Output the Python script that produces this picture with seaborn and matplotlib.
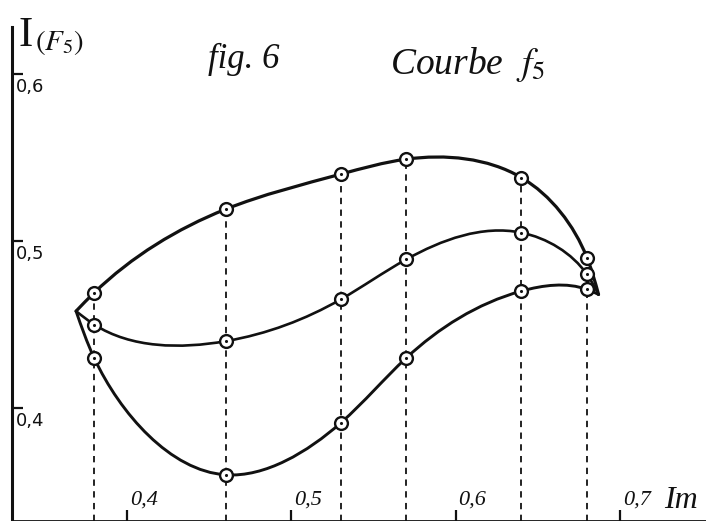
import numpy as np
import pandas as pd
import matplotlib
matplotlib.use("Agg")
import matplotlib.pyplot as plt
from matplotlib.path import Path
from matplotlib.patches import PathPatch
import seaborn as sns

# Measured intensity I(F5) against Im for the three branches of curve f5
im_values = [0.38, 0.46, 0.53, 0.57, 0.64, 0.68]
upper_branch = [0.469, 0.519, 0.540, 0.549, 0.538, 0.490]
middle_branch = [0.450, 0.440, 0.465, 0.489, 0.505, 0.480]
lower_branch = [0.430, 0.360, 0.391, 0.430, 0.470, 0.471]

# Points where the three branches meet
left_join = (0.369, 0.458)
right_join = (0.687, 0.468)

x_ticks = [0.4, 0.5, 0.6, 0.7]
x_tick_labels = ["0,4", "0,5", "0,6", "0,7"]
y_ticks = [0.4, 0.5, 0.6]
y_tick_labels = ["0,4", "0,5", "0,6"]

INK = "#111111"

sns.set_theme(style="white")
plt.rcParams["font.family"] = ["Liberation Serif", "DejaVu Serif"]
plt.rcParams["mathtext.fontset"] = "stix"

W, H = 706, 521
fig = plt.figure(figsize=(W / 100, H / 100), dpi=100)
fig.patch.set_facecolor("white")
ax = fig.add_axes([12 / W, 0, 1 - 12 / W, 1])
ax.set_facecolor("white")
ax.set_xlim(0.33001, 0.75241)
ax.set_ylim(0.33234, 0.64431)

for side in ("top", "right"):
    ax.spines[side].set_visible(False)
ax.spines["left"].set_color(INK)
ax.spines["left"].set_linewidth(2.2)
ax.spines["left"].set_bounds(0.33234, 0.6281)
ax.spines["bottom"].set_color(INK)
ax.spines["bottom"].set_linewidth(2.0)

ax.set_xticks(x_ticks)
ax.set_yticks(y_ticks)
ax.set_xticklabels([])
ax.set_yticklabels([])
ax.tick_params(axis="both", direction="in", length=8, width=1.6, color=INK,
               bottom=True, left=True)

# vertical dashed guides from the top branch down to the Im axis
ax.vlines(im_values, ymin=0.33234, ymax=upper_branch, colors=INK,
          linestyles=(0, (3.5, 3.0)), linewidth=1.3, zorder=2)


def smooth_path(points):
    """Natural cubic spline through the points (chord-length parameter),
    written as exact cubic Bezier segments."""
    p = np.asarray(points, dtype=float)
    n = len(p)
    h = np.linalg.norm(np.diff(p, axis=0), axis=1)
    # second derivatives with natural end conditions
    A = np.zeros((n, n))
    rhs = np.zeros((n, 2))
    A[0, 0] = A[-1, -1] = 1.0
    for i in range(1, n - 1):
        A[i, i - 1] = h[i - 1]
        A[i, i] = 2.0 * (h[i - 1] + h[i])
        A[i, i + 1] = h[i]
        rhs[i] = 6.0 * ((p[i + 1] - p[i]) / h[i] - (p[i] - p[i - 1]) / h[i - 1])
    M = np.linalg.solve(A, rhs)
    verts = [p[0]]
    codes = [Path.MOVETO]
    for i in range(n - 1):
        slope = (p[i + 1] - p[i]) / h[i]
        d0 = slope - h[i] * (2.0 * M[i] + M[i + 1]) / 6.0
        d1 = slope + h[i] * (M[i] + 2.0 * M[i + 1]) / 6.0
        verts += [p[i] + d0 * h[i] / 3.0, p[i + 1] - d1 * h[i] / 3.0, p[i + 1]]
        codes += [Path.CURVE4] * 3
    return Path(verts, codes)


for branch, lw in ((upper_branch, 2.3), (middle_branch, 1.9), (lower_branch, 2.1)):
    pts = [left_join] + list(zip(im_values, branch)) + [right_join]
    ax.add_patch(PathPatch(smooth_path(pts), facecolor="none", edgecolor=INK,
                           linewidth=lw, capstyle="round", joinstyle="round",
                           zorder=3))

points = pd.DataFrame({
    "Im": im_values * 3,
    "I": upper_branch + middle_branch + lower_branch,
})

sns.scatterplot(data=points, x="Im", y="I", ax=ax, marker="o", s=85,
                facecolor="white", edgecolor=INK, linewidth=1.7, zorder=5,
                legend=False)
sns.scatterplot(data=points, x="Im", y="I", ax=ax, marker="o", s=5,
                color=INK, linewidth=0, zorder=6, legend=False)
ax.set_xlabel("")
ax.set_ylabel("")

# tick labels written beside the marks
for v, lab in zip(y_ticks, y_tick_labels):
    ax.annotate(lab, xy=(0.33001, v), xytext=(2.5, -3), textcoords="offset points",
                ha="left", va="top", fontsize=13, color=INK,
                family=["DejaVu Sans"])
for v, lab in zip(x_ticks, x_tick_labels):
    ax.annotate(lab, xy=(v, 0.33234), xytext=(2, 8), textcoords="offset points",
                ha="left", va="bottom", fontsize=16, style="italic", color=INK)

# axis names and title
fig.text(19 / W, 1 - 46 / H, "I", fontsize=31, color=INK, ha="left",
         va="baseline")
fig.text(35 / W, 1 - 50 / H, r"$(F_5)$", fontsize=21, color=INK, ha="left",
         va="baseline")
fig.text(664 / W, 1 - 508 / H, "Im", fontsize=23, style="italic", color=INK,
         ha="left", va="baseline")
fig.text(208 / W, 1 - 68 / H, "fig. 6", fontsize=25, style="italic", color=INK,
         ha="left", va="baseline")
fig.text(390 / W, 1 - 74 / H, r"Courbe  $f_5$", fontsize=27, style="italic",
         color=INK, ha="left", va="baseline")

fig.savefig("out.png", dpi=100, facecolor="white")
